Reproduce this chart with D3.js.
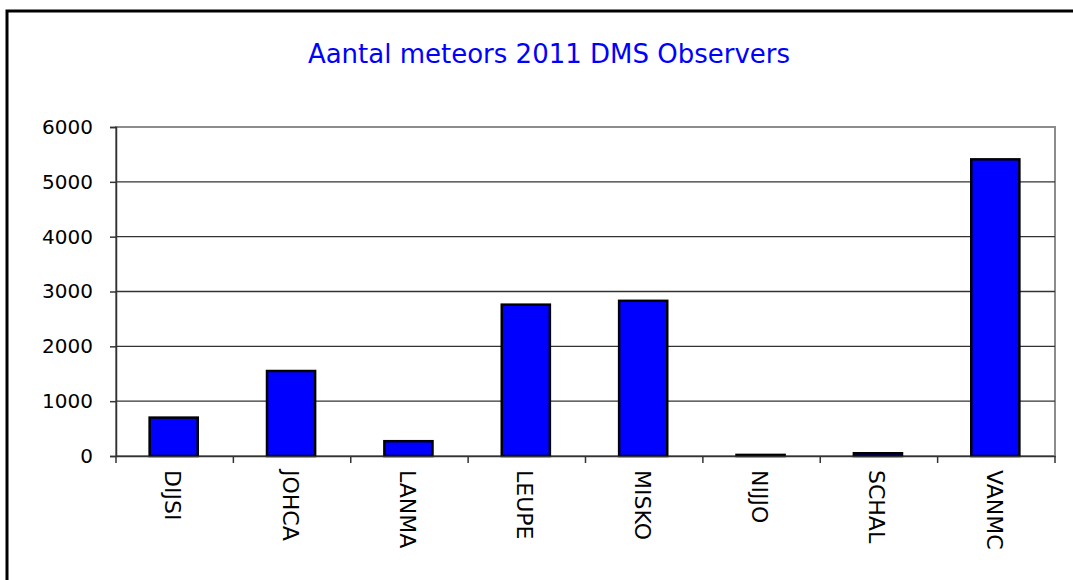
<!DOCTYPE html>
<html>
<head>
<meta charset="utf-8">
<script src="https://cdn.jsdelivr.net/npm/d3@7"></script>
<style>
body { margin: 0; background: #fff; }
</style>
</head>
<body>
<div class="container"></div>
<script>
// data
var observers = ["DIJSI", "JOHCA", "LANMA", "LEUPE", "MISKO", "NIJJO", "SCHAL", "VANMC"];
var meteors = [700, 1550, 270, 2760, 2830, 20, 50, 5410];
var yTicks = [0, 1000, 2000, 3000, 4000, 5000, 6000];
var title = "Aantal meteors 2011 DMS Observers";

var W = 1073, H = 580;
// plot box (note: "top" is reserved on window, so use plotTop)
var plotLeft = 116, plotRight = 1055, plotTop = 127, plotBottom = 456;

var stage = d3.select(".container")
    .append("svg")
    .attr("width", W)
    .attr("height", H)
    .style("display", "block");

// outer frame
stage.append("rect")
    .attr("x", 7).attr("y", 11)
    .attr("width", 1100).attr("height", 600)
    .attr("fill", "white")
    .attr("stroke", "black")
    .attr("stroke-width", 3);

stage.append("text")
    .text(title)
    .attr("x", 549)
    .attr("y", 63)
    .attr("font-family", "DejaVu Sans")
    .attr("font-size", 26)
    .attr("text-anchor", "middle")
    .attr("fill", "#0000ff");

var x = d3.scaleBand().domain(observers).range([plotLeft, plotRight]).padding(0);
var y = d3.scaleLinear().domain([0, 6000]).range([plotBottom, plotTop]);

// plot border (gray top/right)
stage.append("rect")
    .attr("x", plotLeft).attr("y", plotTop)
    .attr("width", plotRight - plotLeft).attr("height", plotBottom - plotTop)
    .attr("fill", "none")
    .attr("stroke", "#8c8c8c")
    .attr("stroke-width", 2);

// gridlines
stage.append("g")
    .selectAll("line")
    .data(yTicks.slice(1, -1))
    .enter().append("line")
    .attr("x1", plotLeft).attr("x2", plotRight)
    .attr("y1", function(d) { return y(d); })
    .attr("y2", function(d) { return y(d); })
    .attr("stroke", "#333")
    .attr("stroke-width", 1.3);

// bars
var bw = x.bandwidth() * 0.41;
stage.append("g")
    .selectAll("rect")
    .data(meteors)
    .enter().append("rect")
    .attr("x", function(d, i) { return x(observers[i]) + x.bandwidth() / 2 - bw / 2 - 1; })
    .attr("y", function(d) { return y(d); })
    .attr("width", bw)
    .attr("height", function(d) { return plotBottom - y(d); })
    .attr("fill", "#0000ff")
    .attr("stroke", "black")
    .attr("stroke-width", 2.5);

// y axis
var yAxis = d3.axisLeft(y).tickValues(yTicks).tickSize(6).tickPadding(17).tickFormat(d3.format("d"));
var gy = stage.append("g")
    .attr("transform", "translate(" + plotLeft + ",0)")
    .call(yAxis);
gy.select(".domain").attr("stroke", "#333").attr("stroke-width", 1.5);
gy.selectAll(".tick line").attr("stroke", "#333").attr("stroke-width", 1.5);
gy.selectAll(".tick text")
    .attr("font-family", "DejaVu Sans")
    .attr("font-size", 20)
    .attr("fill", "black");

// x axis
var xAxis = d3.axisBottom(x).tickSize(0).tickFormat("");
var gx = stage.append("g")
    .attr("transform", "translate(0," + plotBottom + ")")
    .call(xAxis);
gx.select(".domain").attr("stroke", "#333").attr("stroke-width", 1.5);

// category separators
stage.append("g")
    .selectAll("line")
    .data(observers.concat(["end"]))
    .enter().append("line")
    .attr("x1", function(d, i) { return plotLeft + i * x.step(); })
    .attr("x2", function(d, i) { return plotLeft + i * x.step(); })
    .attr("y1", plotBottom).attr("y2", plotBottom + 7)
    .attr("stroke", "#333")
    .attr("stroke-width", 1.5);

// rotated category labels
stage.append("g")
    .selectAll("text")
    .data(observers)
    .enter().append("text")
    .text(function(d) { return d; })
    .attr("transform", function(d) {
        return "translate(" + (x(d) + x.bandwidth() / 2 - 2) + "," + 470 + ") rotate(90)";
    })
    .attr("font-family", "DejaVu Sans")
    .attr("font-size", 22)
    .attr("dominant-baseline", "central")
    .attr("text-anchor", "start")
    .attr("fill", "black");
</script>
</body>
</html>
